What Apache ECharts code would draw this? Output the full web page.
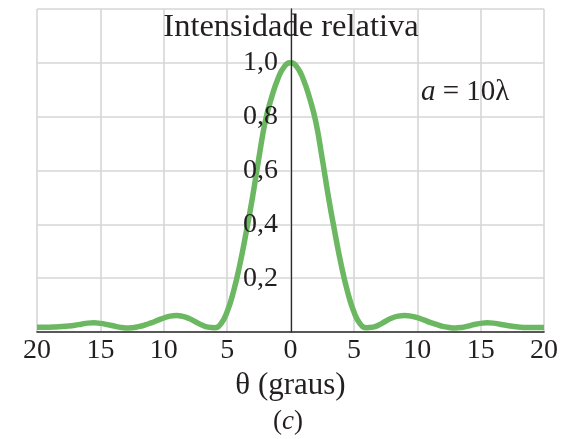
<!DOCTYPE html>
<html><head><meta charset="utf-8">
<script src="https://cdn.jsdelivr.net/npm/echarts@6/dist/echarts.min.js"></script>
<style>html,body{margin:0;padding:0;background:#fff}#c{width:571px;height:439px}</style>
</head><body><div id="c"></div>
<script>
// Angle theta (degrees) and relative intensity
const thetaDeg = [
  -20, -19.5, -19, -18.5, -18, -17.5, -17, -16.5, -16, -15.5,
  -15, -14.5, -14, -13.5, -13, -12.5, -12, -11.5, -11, -10.5,
  -10, -9.5, -9, -8.5, -8, -7.5, -7, -6.5, -6, -5.5,
  -5, -4.5, -4, -3.5, -3, -2.5, -2, -1.5, -1, -0.5,
  0,
  0.5, 1, 1.5, 2, 2.5, 3, 3.5, 4, 4.5, 5,
  5.5, 6, 6.5, 7, 7.5, 8, 8.5, 9, 9.5, 10,
  10.5, 11, 11.5, 12, 12.5, 13, 13.5, 14, 14.5, 15,
  15.5, 16, 16.5, 17, 17.5, 18, 18.5, 19, 19.5, 20
];
const intensity = [
  0.018, 0.018, 0.018, 0.019, 0.020, 0.022, 0.025, 0.029, 0.033, 0.034,
  0.032, 0.028, 0.023, 0.018, 0.015, 0.016, 0.020, 0.026, 0.034, 0.043,
  0.052, 0.059, 0.061, 0.058, 0.050, 0.038, 0.026, 0.018, 0.016, 0.030,
  0.075, 0.15, 0.25, 0.37, 0.50, 0.645, 0.78, 0.87, 0.94, 0.985,
  1.0,
  0.985, 0.94, 0.87, 0.78, 0.645, 0.50, 0.37, 0.25, 0.15, 0.075,
  0.030, 0.016, 0.018, 0.027, 0.040, 0.052, 0.059, 0.061, 0.059, 0.053,
  0.045, 0.036, 0.028, 0.021, 0.017, 0.015, 0.017, 0.022, 0.028, 0.032,
  0.034, 0.033, 0.029, 0.025, 0.021, 0.019, 0.017, 0.017, 0.017, 0.017
];
const yTickLabels = ['0,2', '0,4', '0,6', '0,8', '1,0'];
const yTickValues = [0.2, 0.4, 0.6, 0.8, 1.0];
const titleText = 'Intensidade relativa';
const xAxisTitle = 'θ (graus)';

const SERIF = '"Liberation Serif", "Times New Roman", serif';
const TEXT = '#231f20';
const GRIDC = '#d6d6d6';

const chart = echarts.init(document.getElementById('c'), null, {renderer: 'canvas'});
const points = thetaDeg.map((t, i) => [t, intensity[i]]);

chart.setOption({
  animation: false,
  backgroundColor: '#ffffff',
  grid: [
    {left: 37, right: 27, top: 9, bottom: 107, containLabel: false, outerBoundsMode: 'none'},
    // left half (theta -20..0) — its right edge is the vertical axis at theta = 0
    {left: 37, right: 280, top: 9, bottom: 107, containLabel: false, outerBoundsMode: 'none'}
  ],
  xAxis: [
    {
      gridIndex: 0, type: 'value', min: -20, max: 20, interval: 5,
      axisLine: {show: true, onZero: false, lineStyle: {color: '#2b2b2b', width: 1.6}},
      axisTick: {show: false},
      splitLine: {show: true, lineStyle: {color: GRIDC, width: 1.6}},
      axisLabel: {
        show: true, margin: 5, fontFamily: SERIF, fontSize: 28, color: TEXT,
        formatter: v => String(Math.abs(v))
      },
      name: xAxisTitle, nameLocation: 'middle', nameGap: 35,
      nameTextStyle: {fontFamily: SERIF, fontSize: 31, color: TEXT}
    },
    {
      gridIndex: 1, type: 'value', min: -20, max: 0, show: false
    }
  ],
  yAxis: [
    {
      gridIndex: 0, type: 'value', min: 0, max: 1.2, interval: 0.2, z: 0,
      axisLine: {show: false, onZero: false}, axisTick: {show: false}, axisLabel: {show: false},
      splitLine: {show: true, lineStyle: {color: GRIDC, width: 1.6}}
    },
    {
      gridIndex: 1, type: 'value', min: 0, max: 1.2, interval: 0.2, position: 'right', z: 5,
      axisLine: {show: true, onZero: false, lineStyle: {color: '#2b2b2b', width: 1.3}},
      axisTick: {show: false},
      splitLine: {show: false},
      axisLabel: {
        show: true, inside: true, margin: 13, fontFamily: SERIF, fontSize: 28, color: TEXT,
        formatter: v => {
          const k = yTickValues.findIndex(t => Math.abs(t - v) < 1e-6);
          return k >= 0 ? yTickLabels[k] : '';
        }
      }
    }
  ],
  series: [{
    type: 'line', xAxisIndex: 0, yAxisIndex: 0, data: points,
    smooth: true, showSymbol: false, z: 2,
    lineStyle: {color: '#6cb862', width: 5.5}
  }],
  graphic: [
    {type: 'text', x: 291, y: 27, z: 10,
     style: {text: titleText, fontFamily: SERIF, fontSize: 32.5, fill: TEXT, align: 'center', verticalAlign: 'middle'}},
    {type: 'text', x: 421, y: 92, z: 10,
     style: {text: '{i|a} = 10λ', fontFamily: SERIF, fontSize: 29, fill: TEXT, align: 'left', verticalAlign: 'middle',
       rich: {i: {fontFamily: SERIF, fontStyle: 'italic', fontSize: 29, fill: TEXT}}}},
    {type: 'text', x: 288, y: 422, z: 10,
     style: {text: '({i|c})', fontFamily: SERIF, fontSize: 27, fill: TEXT, align: 'center', verticalAlign: 'middle',
       rich: {i: {fontFamily: SERIF, fontStyle: 'italic', fontSize: 27, fill: TEXT}}}}
  ]
});
</script>
</body></html>
